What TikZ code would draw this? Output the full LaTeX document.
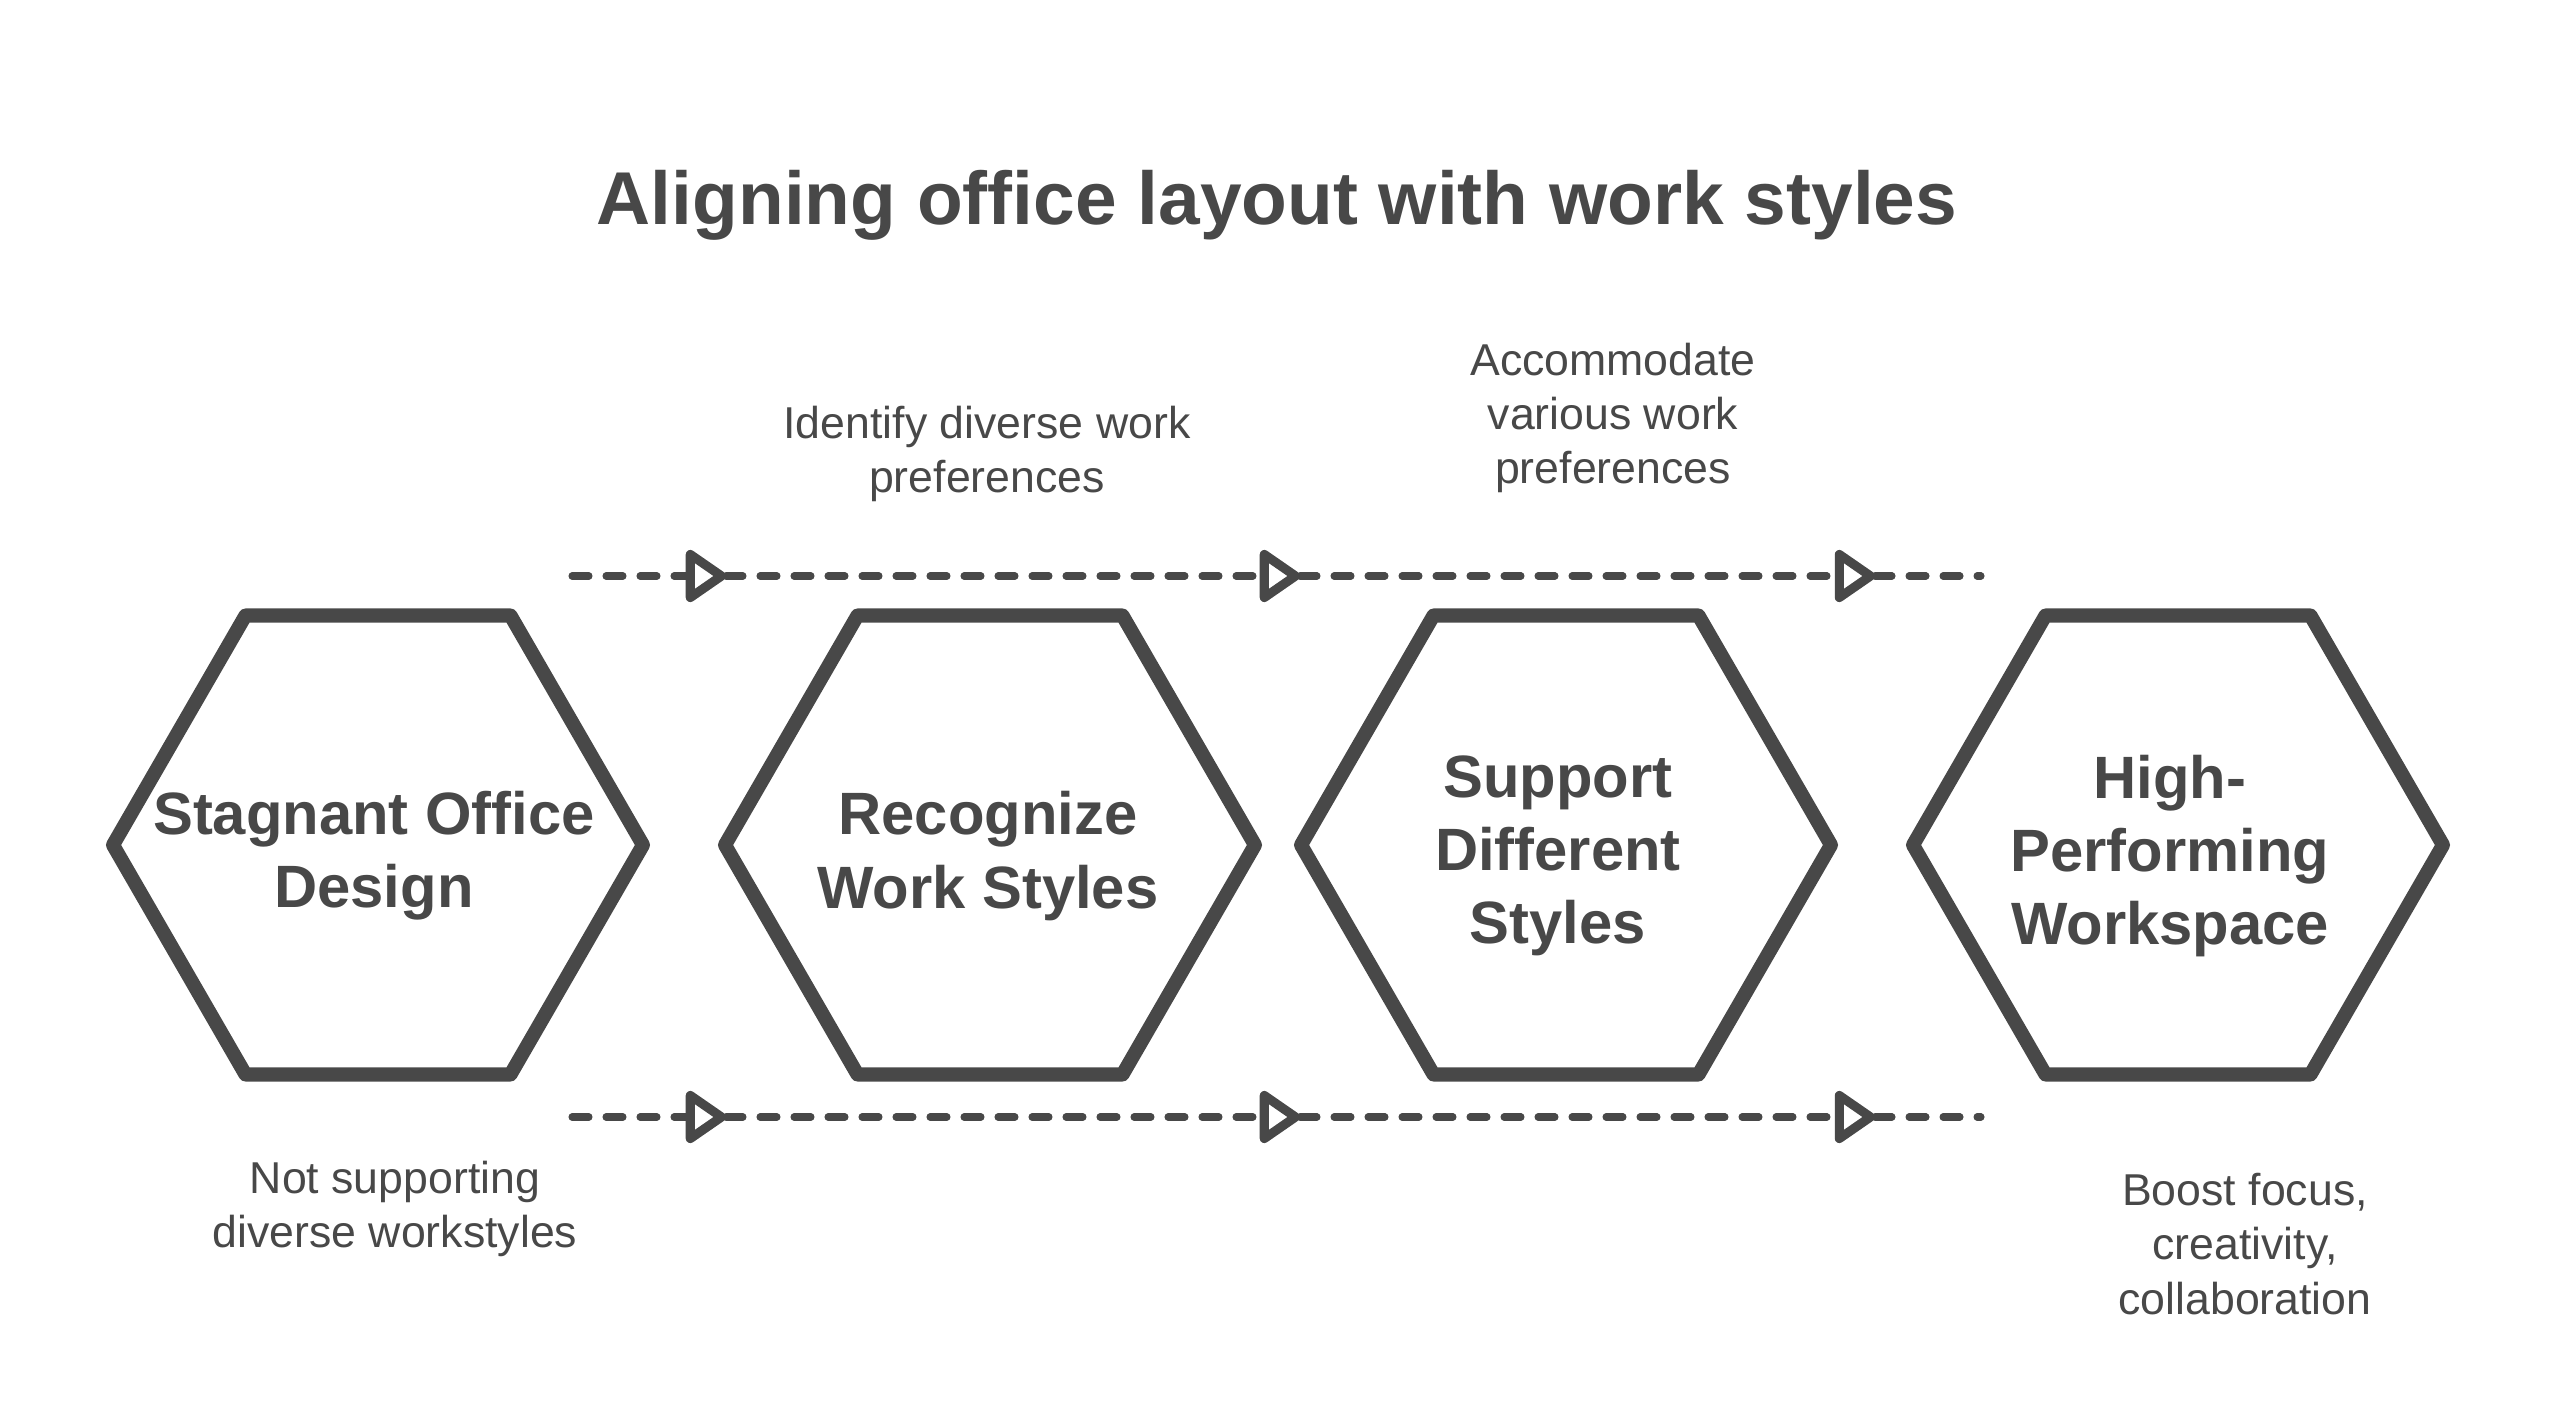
\documentclass[tikz,border=0pt]{standalone}
\usepackage{fontspec}
\setmainfont{Liberation Sans}
\usetikzlibrary{shapes.geometric,arrows.meta}
\definecolor{ink}{HTML}{484848}

\begin{document}
\begin{tikzpicture}[
    hexa/.style={draw=ink, line width=4pt, line join=round, regular polygon, regular polygon sides=6, minimum size=5.3cm, inner sep=0pt},
    hexlabel/.style={text=ink, font=\fontsize{17}{20.8}\selectfont\bfseries, align=center},
    note/.style={text=ink, font=\fontsize{12.7}{15.4}\selectfont, align=center},
    flow/.style={draw=ink, line width=2pt, line cap=round, dash pattern=on 0.17cm off 0.17cm, -{Triangle[open, length=0.44cm, width=0.58cm, line width=2.6pt, round]}},
    tail/.style={draw=ink, line width=2pt, line cap=round, dash pattern=on 0.17cm off 0.17cm}]
    \useasboundingbox (0,0) rectangle (25.57,14.10);
    \node[text=ink, font=\fontsize{21.3}{25}\selectfont\bfseries] (title) at (12.77,12.05) {Aligning office layout with work styles};
    \node[hexa] (stagnant) at (3.78,5.65) {};
    \node[hexa] (recognize) at (9.90,5.65) {};
    \node[hexa] (support) at (15.66,5.65) {};
    \node[hexa] (highperf) at (21.78,5.65) {};
    \node[hexlabel] (stagnanttext) at (3.74,5.54) {Stagnant Office\\Design};
    \node[hexlabel] (recognizetext) at (9.88,5.54) {Recognize\\Work Styles};
    \node[hexlabel] (supporttext) at (15.58,5.54) {Support\\Different\\Styles};
    \node[hexlabel] (highperftext) at (21.70,5.54) {High-\\Performing\\Workspace};
    \coordinate (t0) at (5.72,8.34);
    \coordinate (t1) at (7.26,8.34);
    \coordinate (t2) at (13.00,8.34);
    \coordinate (t3) at (18.75,8.34);
    \coordinate (t4) at (19.81,8.34);
    \coordinate (b0) at (5.72,2.93);
    \coordinate (b1) at (7.26,2.93);
    \coordinate (b2) at (13.00,2.93);
    \coordinate (b3) at (18.75,2.93);
    \coordinate (b4) at (19.81,2.93);
    \draw[flow] (t0) -- (t1);
    \draw[flow] (t1) -- (t2);
    \draw[flow] (t2) -- (t3);
    \draw[tail] (t3) -- (t4);
    \draw[flow] (b0) -- (b1);
    \draw[flow] (b1) -- (b2);
    \draw[flow] (b2) -- (b3);
    \draw[tail] (b3) -- (b4);
    \node[note] (identify) at (9.87,9.56) {Identify diverse work\\preferences};
    \node[note] (accommodate) at (16.13,9.92) {Accommodate\\various work\\preferences};
    \node[note] (notsupporting) at (3.95,2.01) {Not supporting\\diverse workstyles};
    \node[note] (boost) at (22.45,1.66) {Boost focus,\\creativity,\\collaboration};
\end{tikzpicture}
\end{document}
